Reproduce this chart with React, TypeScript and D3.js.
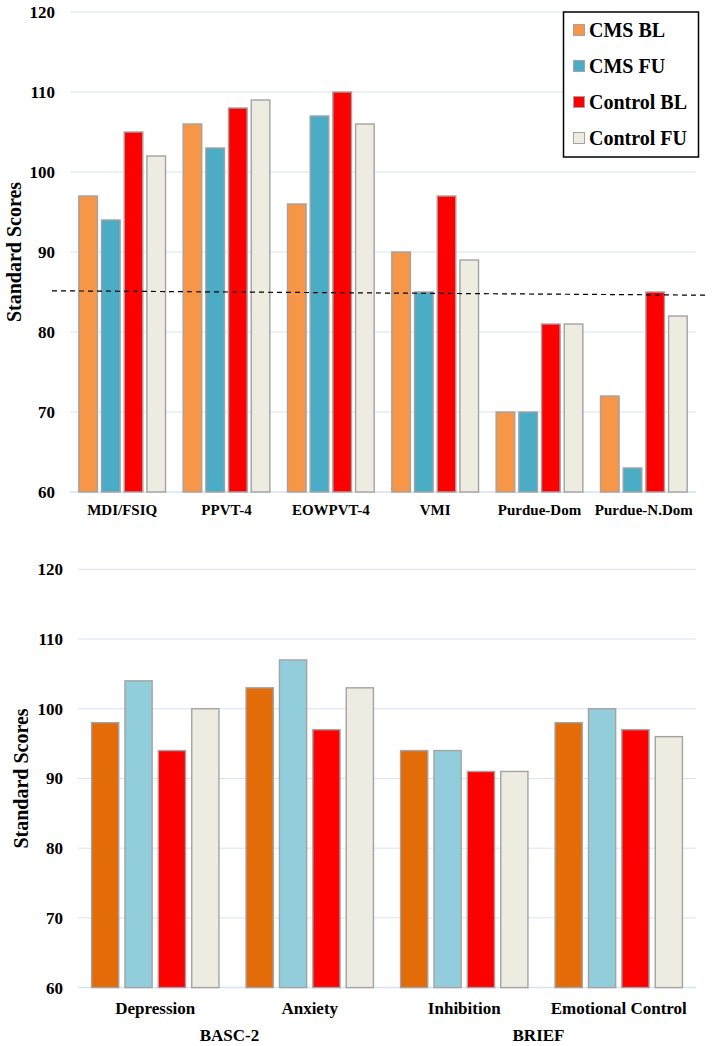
import React from "react";
import * as d3 from "d3";

const series = ["CMS BL", "CMS FU", "Control BL", "Control FU"];
const topColors = ["#F79646", "#4BACC6", "#FF0000", "#EEECE1"];
const bottomColors = ["#E36C09", "#92CDDC", "#FF0000", "#EEECE1"];

const topCategories = ["MDI/FSIQ", "PPVT-4", "EOWPVT-4", "VMI", "Purdue-Dom", "Purdue-N.Dom"];
const topCmsBL = [97, 106, 96, 90, 70, 72];
const topCmsFU = [94, 103, 107, 85, 70, 63];
const topCtrlBL = [105, 108, 110, 97, 81, 85];
const topCtrlFU = [102, 109, 106, 89, 81, 82];

const bottomCategories = ["Depression", "Anxiety", "Inhibition", "Emotional Control"];
const bottomCmsBL = [98, 103, 94, 98];
const bottomCmsFU = [104, 107, 94, 100];
const bottomCtrlBL = [94, 97, 91, 97];
const bottomCtrlFU = [100, 103, 91, 96];
const bottomGroups = [
  { label: "BASC-2", from: "Depression", to: "Anxiety" },
  { label: "BRIEF", from: "Inhibition", to: "Emotional Control" },
];

const yTicks = [60, 70, 80, 90, 100, 110, 120];
const refLine = [85.15, 84.6];

const FONT = "'Liberation Serif', 'Times New Roman', serif";
const GRID = "#D6E3F3";

type PanelProps = {
  categories: string[];
  values: number[][];
  colors: string[];
  x0: number; x1: number; yTop: number; yBottom: number;
  pIn: number; pOut: number;
  tickX: number; tickSize: number; catSize: number; catY: number;
  titleX: number;
  children?: React.ReactNode;
  render?: (x: d3.ScaleBand<string>, y: d3.ScaleLinear<number, number>) => React.ReactNode;
};

function Panel(p: PanelProps) {
  const x = d3.scaleBand<string>().domain(p.categories).range([p.x0, p.x1]).padding(0);
  const inner = d3.scaleBand<string>().domain(series).range([0, x.bandwidth()]).paddingInner(p.pIn).paddingOuter(p.pOut);
  const y = d3.scaleLinear().domain([60, 120]).range([p.yBottom, p.yTop]);
  const cy = (p.yTop + p.yBottom) / 2;
  return (
    <g>
      {yTicks.map((t) => (
        <g key={t}>
          <line x1={p.x0} x2={p.x1} y1={y(t)} y2={y(t)} stroke={GRID} strokeWidth={t === 60 ? 1.5 : 1} />
          <text x={p.tickX} y={y(t)} dy="0.35em" textAnchor="end" fontFamily={FONT} fontWeight="bold" fontSize={p.tickSize} fill="#000">{t}</text>
        </g>
      ))}
      <text transform={`translate(${p.titleX},${cy}) rotate(-90)`} textAnchor="middle" fontFamily={FONT} fontWeight="bold" fontSize={20} fill="#000">Standard Scores</text>
      {p.categories.map((c, i) => (
        <g key={c}>
          {series.map((s, j) => {
            const v = p.values[j][i];
            return (
              <rect key={s} x={(x(c) as number) + (inner(s) as number)} y={y(v)} width={inner.bandwidth()} height={y(60) - y(v)}
                fill={p.colors[j]} stroke="#A3A3A3" strokeWidth={1.4} />
            );
          })}
          <text x={(x(c) as number) + x.bandwidth() / 2} y={p.catY} textAnchor="middle" fontFamily={FONT} fontWeight="bold" fontSize={p.catSize} fill="#000">{c}</text>
        </g>
      ))}
      {p.render ? p.render(x, y) : null}
    </g>
  );
}

export default function App() {
  const topValues = [topCmsBL, topCmsFU, topCtrlBL, topCtrlFU];
  const bottomValues = [bottomCmsBL, bottomCmsFU, bottomCtrlBL, bottomCtrlFU];
  return (
    <svg width={713} height={1046} style={{ position: "absolute", left: 0, top: 0, background: "#fff" }}>
      <rect width={713} height={1046} fill="#fff" />
      <Panel categories={topCategories} values={topValues} colors={topColors}
        x0={70} x1={696} yTop={12} yBottom={492} pIn={0.18} pOut={0.388}
        tickX={55} tickSize={17} catSize={15} catY={515} titleX={21}
        render={(x, y) => (
          <g>
            <line x1={52} x2={708} y1={y(refLine[0])} y2={y(refLine[1])} stroke="#000" strokeWidth={1.2} strokeDasharray="5,4" />
            <rect x={563.5} y={12} width={135} height={145} fill="#fff" stroke="#000" strokeWidth={1.5} />
            {series.map((s, j) => (
              <g key={s}>
                <rect x={573.5} y={30 + j * 36 - 5.5} width={11} height={11} fill={topColors[j]} stroke="#A3A3A3" strokeWidth={1} />
                <text x={589} y={30 + j * 36} dy="0.35em" fontFamily={FONT} fontWeight="bold" fontSize={20} fill="#000">{s}</text>
              </g>
            ))}
          </g>
        )}
      />
      <Panel categories={bottomCategories} values={bottomValues} colors={bottomColors}
        x0={78} x1={696} yTop={569.3} yBottom={987.6} pIn={0.186} pOut={0.406}
        tickX={63} tickSize={17} catSize={17} catY={1014} titleX={28}
        render={(x) => (
          <g>
            {bottomGroups.map((g) => {
              const cx = ((x(g.from) as number) + (x(g.to) as number) + x.bandwidth()) / 2;
              return (
                <text key={g.label} x={cx - 3} y={1041} textAnchor="middle" fontFamily={FONT} fontWeight="bold" fontSize={17} fill="#000">{g.label}</text>
              );
            })}
          </g>
        )}
      />
    </svg>
  );
}
